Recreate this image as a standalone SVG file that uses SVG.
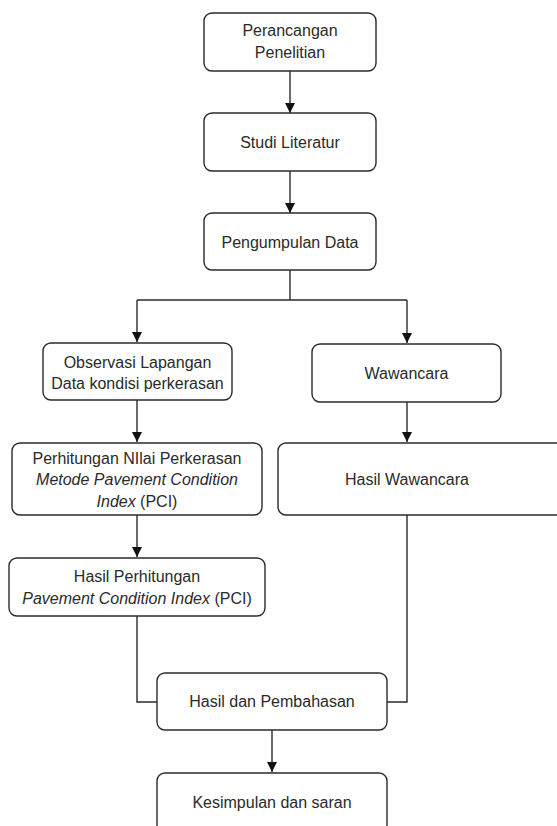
<svg xmlns="http://www.w3.org/2000/svg" width="557" height="826" viewBox="0 0 557 826">
<defs>
<style>
.box{fill:#fff;stroke:#2b2b2b;stroke-width:1.4}
.t{font-family:"Liberation Sans",Arial,sans-serif;font-size:16px;fill:#2a2a2a;text-anchor:middle}
.i{font-style:italic}
.c{fill:none;stroke:#2b2b2b;stroke-width:1.4}
.ah{fill:#111}
</style>
</defs>
<rect width="557" height="826" fill="#fff"/>
<g id="connectors">
<path class="c" d="M290,71 V113"/>
<path class="c" d="M290,171 V213"/>
<path class="c" d="M290,270 V300 M137,300 H407"/>
<path class="c" d="M137,300 V342"/>
<path class="c" d="M407,300 V343"/>
<path class="c" d="M137,400 V442"/>
<path class="c" d="M407,402 V442"/>
<path class="c" d="M137,515 V557"/>
<path class="c" d="M137,616 V702 H157"/>
<path class="c" d="M407,515 V702 H387"/>
<path class="c" d="M272,730 V772"/>
<path class="ah" d="M285,103 L295,103 L290,113 Z"/>
<path class="ah" d="M285,203 L295,203 L290,213 Z"/>
<path class="ah" d="M132,332 L142,332 L137,342 Z"/>
<path class="ah" d="M402,333 L412,333 L407,343 Z"/>
<path class="ah" d="M132,432 L142,432 L137,442 Z"/>
<path class="ah" d="M402,432 L412,432 L407,442 Z"/>
<path class="ah" d="M132,547 L142,547 L137,557 Z"/>
<path class="ah" d="M267,762 L277,762 L272,772 Z"/>
</g>
<g id="n1"><rect class="box" x="204" y="13" width="172" height="58" rx="8"/>
<text class="t" x="290" y="36">Perancangan</text><text class="t" x="290" y="58">Penelitian</text></g>
<g id="n2"><rect class="box" x="204" y="113" width="172" height="58" rx="8"/>
<text class="t" x="290" y="148">Studi Literatur</text></g>
<g id="n3"><rect class="box" x="204" y="213" width="172" height="57" rx="8"/>
<text class="t" x="290" y="248">Pengumpulan Data</text></g>
<g id="n4"><rect class="box" x="43" y="343" width="189" height="57" rx="8"/>
<text class="t" x="137.5" y="368">Observasi Lapangan</text><text class="t" x="137.5" y="389">Data kondisi perkerasan</text></g>
<g id="n5"><rect class="box" x="312" y="344" width="189" height="58" rx="8"/>
<text class="t" x="406.5" y="379">Wawancara</text></g>
<g id="n6"><rect class="box" x="12" y="443" width="250" height="72" rx="8"/>
<text class="t" x="137" y="464">Perhitungan NIlai Perkerasan</text>
<text class="t i" x="137" y="485">Metode Pavement Condition</text>
<text class="t" x="137" y="507"><tspan class="i">Index</tspan> (PCI)</text></g>
<g id="n7"><rect class="box" x="278" y="443" width="290" height="72" rx="8"/>
<text class="t" x="407" y="485">Hasil Wawancara</text></g>
<g id="n8"><rect class="box" x="9" y="558" width="256" height="58" rx="8"/>
<text class="t" x="137" y="582">Hasil Perhitungan</text>
<text class="t" x="137" y="604"><tspan class="i">Pavement Condition Index</tspan> (PCI)</text></g>
<g id="n9"><rect class="box" x="157" y="673" width="230" height="57" rx="8"/>
<text class="t" x="272" y="707">Hasil dan Pembahasan</text></g>
<g id="n10"><rect class="box" x="157" y="773" width="230" height="60" rx="8"/>
<text class="t" x="272" y="808">Kesimpulan dan saran</text></g>
</svg>
